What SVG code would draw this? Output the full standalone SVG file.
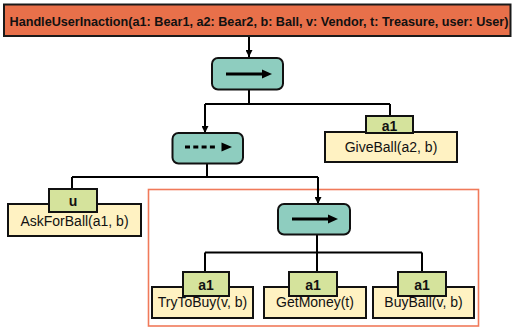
<svg xmlns="http://www.w3.org/2000/svg" width="512" height="331" viewBox="0 0 512 331">
  <style>
    .root { fill: #E8704A; stroke: #1a1a1a; stroke-width: 2; }
    .seq { fill: #8ECDBF; stroke: #111; stroke-width: 2; }
    .task { fill: #FFF2C2; stroke: #111; stroke-width: 2; }
    .tag { fill: #D5E39C; stroke: #111; stroke-width: 2; }
    .wire { fill: none; stroke: #000; stroke-width: 2; }
    .glyph { stroke: #000; stroke-width: 3; fill: none; }
    .head { fill: #000; }
    .t { font-family: "Liberation Sans", Arial, sans-serif; font-size: 14px; fill: #111; text-anchor: middle; }
    .tb { font-family: "Liberation Sans", Arial, sans-serif; font-size: 14px; font-weight: bold; fill: #111; text-anchor: middle; }
    .title { font-family: "Liberation Sans", Arial, sans-serif; font-size: 12.5px; font-weight: bold; fill: #111; }
  </style>
  <defs>
    <marker id="arr" viewBox="0 0 10 10" refX="10" refY="5" markerWidth="3.5" markerHeight="3.5" orient="auto" markerUnits="strokeWidth">
      <path d="M0,0 L10,5 L0,10 z" fill="#000"/>
    </marker>
  </defs>

  <!-- group box -->
  <rect x="148.5" y="189.5" width="330" height="136.5" fill="none" stroke="#F07A5A" stroke-width="1.6"/>

  <g id="connectors">
    <path class="wire" d="M249,36 V57" marker-end="url(#arr)"/>
    <path class="wire" d="M249,90 V104 M205,104 H390 M390,104 V116"/>
    <path class="wire" d="M205,104 V133" marker-end="url(#arr)"/>
    <path class="wire" d="M207,163 V177 M72,177 H318 M72,177 V189"/>
    <path class="wire" d="M318,177 V204" marker-end="url(#arr)"/>
    <path class="wire" d="M317,234 V272 M205,252.5 H422 M205,252.5 V272 M422,252.5 V272"/>
  </g>

  <g id="root">
    <rect class="root" x="4" y="4.5" width="506.5" height="31.5"/>
    <text class="title" x="9.5" y="26" textLength="499" lengthAdjust="spacingAndGlyphs">HandleUserInaction(a1: Bear1, a2: Bear2, b: Ball, v: Vendor, t: Treasure, user: User)</text>
  </g>

  <g id="seq1">
    <rect class="seq" x="212" y="58" width="71" height="31.5" rx="6"/>
    <line class="glyph" x1="226" y1="74" x2="264" y2="74"/>
    <path class="head" d="M262,69.5 L272,74 L262,78.5 z"/>
  </g>

  <g id="seq2">
    <rect class="seq" x="172.5" y="133" width="70.5" height="30.5" rx="6"/>
    <line class="glyph" x1="185" y1="147" x2="216" y2="147" stroke-dasharray="5 3.3"/>
    <path class="head" d="M221.5,142.5 L232,147 L221.5,151.5 z"/>
  </g>

  <g id="seq3">
    <rect class="seq" x="278" y="204" width="72" height="30.5" rx="6"/>
    <line class="glyph" x1="292" y1="219" x2="330" y2="219"/>
    <path class="head" d="M328,214.5 L338,219 L328,223.5 z"/>
  </g>

  <g id="giveball">
    <rect class="task" x="325" y="132" width="132" height="30"/>
    <rect class="tag" x="366" y="116" width="47" height="17"/>
    <text class="tb" x="389.5" y="130.5">a1</text>
    <text class="t" x="391" y="152">GiveBall(a2, b)</text>
  </g>

  <g id="askforball">
    <rect class="task" x="8" y="204" width="133" height="32"/>
    <rect class="tag" x="49" y="189" width="48" height="23"/>
    <text class="tb" x="73" y="206">u</text>
    <text class="t" x="74.5" y="225.5">AskForBall(a1, b)</text>
  </g>

  <g id="trytobuy">
    <rect class="task" x="152" y="287" width="101" height="31"/>
    <rect class="tag" x="183" y="272" width="46" height="24"/>
    <text class="tb" x="206" y="289.5">a1</text>
    <text class="t" x="202.5" y="307">TryToBuy(v, b)</text>
  </g>

  <g id="getmoney">
    <rect class="task" x="264" y="287" width="102" height="31"/>
    <rect class="tag" x="289" y="272" width="48" height="24"/>
    <text class="tb" x="313" y="289.5">a1</text>
    <text class="t" x="315" y="307">GetMoney(t)</text>
  </g>

  <g id="buyball">
    <rect class="task" x="373" y="287" width="101" height="31"/>
    <rect class="tag" x="398" y="272" width="48" height="24"/>
    <text class="tb" x="422" y="289.5">a1</text>
    <text class="t" x="423.5" y="307">BuyBall(v, b)</text>
  </g>
</svg>
